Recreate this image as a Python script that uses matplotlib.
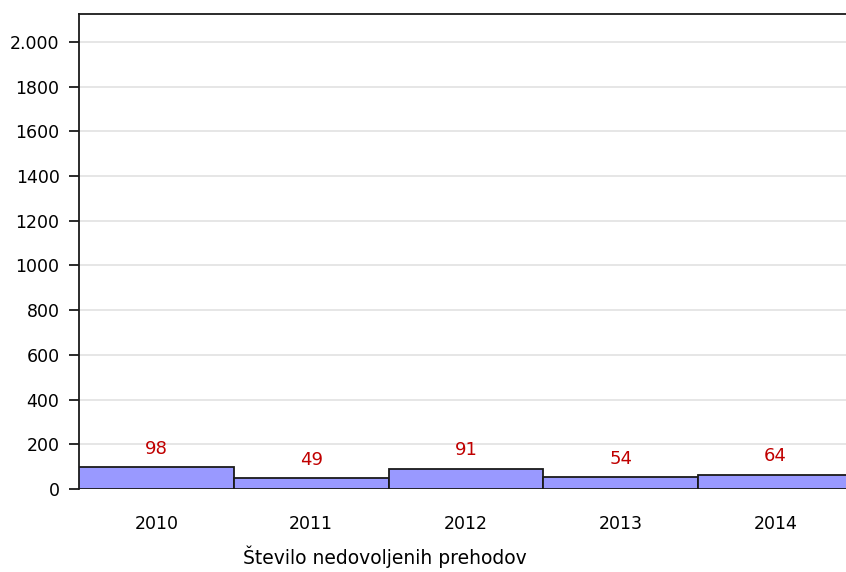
import matplotlib
matplotlib.use("Agg")
import matplotlib.pyplot as plt

years = ["2010", "2011", "2012", "2013", "2014"]
values = [98, 49, 91, 54, 64]
y_ticks = [0, 200, 400, 600, 800, 1000, 1200, 1400, 1600, 1800, 2000]
y_labels = ["0", "200", "400", "600", "800", "1000", "1200", "1400", "1600", "1800", "2.000"]
x_title = "Število nedovoljenih prehodov"

plt.rcParams['font.family'] = ['DejaVu Sans']

W, H = 846, 572
fig = plt.figure(figsize=(W / 100, H / 100), dpi=100)
# axes run a bit past the right edge, as in the original
left, right, top, bottom = 79, 79 + 5 * 154.75, 14, 489
ax = fig.add_axes([left / W, 1 - bottom / H, (right - left) / W, (bottom - top) / H])

x = range(len(years))
ax.bar(x, values, width=1.0, color="#9999ff", edgecolor="#1a1a1a", linewidth=1.3, zorder=3)
for i, v in zip(x, values):
    ax.text(i, v + 82, str(v), ha="center", va="center", color="#c00000", fontsize=13, zorder=4)

ax.set_xlim(-0.5, 4.5)
ax.set_ylim(0, 2125)
ax.set_yticks(y_ticks)
ax.set_yticklabels(y_labels, fontsize=12.5)
ax.set_xticks(list(x))
ax.set_xticklabels(years, fontsize=12.5)
ax.tick_params(axis="x", length=0, pad=19)
ax.tick_params(axis="y", length=7, width=1.3, color="#1a1a1a", pad=7)
ax.yaxis.grid(True, color="#e2e2e2", linewidth=1.2, zorder=0)
ax.set_axisbelow(True)

for s in ["left", "top", "right"]:
    ax.spines[s].set_color("#1a1a1a")
    ax.spines[s].set_linewidth(1.3)
ax.spines["bottom"].set_visible(False)

fig.text(243 / W, 1 - 557 / H, x_title, ha="left", va="center", fontsize=13.5)

fig.savefig("out.png", dpi=100)
